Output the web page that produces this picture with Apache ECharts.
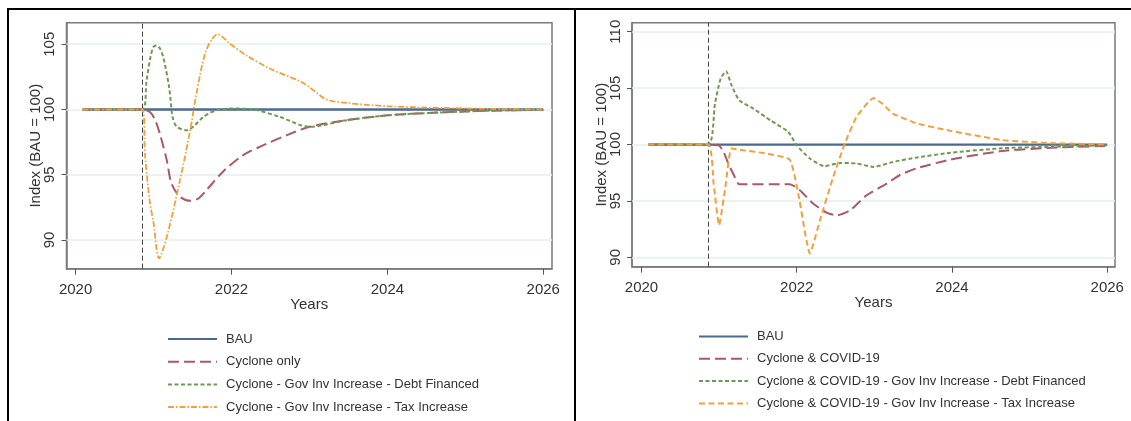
<!DOCTYPE html>
<html>
<head>
<meta charset="utf-8">
<script src="https://cdn.jsdelivr.net/npm/echarts@6/dist/echarts.min.js"></script>
<style>
html,body{margin:0;padding:0;background:#fff;}
#chart{width:1131px;height:421px;}
</style>
</head>
<body>
<div id="chart"></div>
<script>
// ---------- data ----------
const shockYear = 2020.86;
const xTicks = [2020, 2022, 2024, 2026];
const leftYTicks = [90, 95, 100, 105];
const rightYTicks = [90, 95, 100, 105, 110];

const leftNames = ['BAU', 'Cyclone only', 'Cyclone - Gov Inv Increase - Debt Financed', 'Cyclone - Gov Inv Increase - Tax Increase'];
const rightNames = ['BAU', 'Cyclone & COVID-19', 'Cyclone & COVID-19 - Gov Inv Increase - Debt Financed', 'Cyclone & COVID-19 - Gov Inv Increase - Tax Increase'];

// Left panel
const bauYears = [2020.09, 2026.0];
const bauValues = [100, 100];

const lCycYears = [2020.09, 2020.86, 2020.95, 2021.02, 2021.08, 2021.17, 2021.23, 2021.34, 2021.47, 2021.58, 2021.68, 2021.89, 2022.15, 2022.41, 2022.71, 2023.0, 2023.48, 2024.0, 2024.5, 2025.0, 2025.5, 2026.0];
const lCycValues = [100, 100, 99.82, 99.2, 98.16, 96.1, 94.34, 93.31, 93.0, 93.2, 93.83, 95.23, 96.5, 97.27, 98.03, 98.67, 99.18, 99.55, 99.72, 99.85, 99.93, 99.97];

const lDebtYears = [2020.09, 2020.86, 2020.91, 2020.96, 2021.0, 2021.04, 2021.08, 2021.125, 2021.2, 2021.245, 2021.3, 2021.43, 2021.53, 2021.64, 2021.81, 2022.02, 2022.28, 2022.62, 2023.0, 2023.48, 2024.0, 2024.5, 2025.0, 2025.5, 2026.0];
const lDebtValues = [100, 100, 102.2, 104.0, 104.8, 104.9, 104.7, 104.0, 101.7, 99.4, 98.67, 98.4, 98.8, 99.43, 99.95, 100.07, 100.0, 99.43, 98.67, 99.18, 99.55, 99.72, 99.85, 99.93, 99.96];

const lTaxYears = [2020.09, 2020.86, 2020.89, 2020.95, 2021.0, 2021.07, 2021.17, 2021.34, 2021.47, 2021.55, 2021.66, 2021.75, 2021.82, 2021.98, 2022.19, 2022.49, 2022.9, 2023.05, 2023.22, 2023.48, 2024.0, 2024.5, 2025.0, 2025.5, 2026.0];
const lTaxValues = [100, 100, 96.6, 93.0, 91.3, 88.6, 90.25, 94.6, 98.42, 101.22, 104.28, 105.4, 105.76, 105.05, 104.15, 103.14, 102.1, 101.48, 100.77, 100.5, 100.25, 100.15, 100.08, 100.03, 100.0];

// Right panel
const rCycYears = [2020.09, 2020.99, 2021.06, 2021.12, 2021.19, 2021.26, 2021.91, 2022.04, 2022.21, 2022.39, 2022.52, 2022.69, 2022.9, 2023.16, 2023.33, 2023.55, 2023.98, 2024.64, 2025.29, 2026.0];
const rCycValues = [100, 99.94, 99.3, 98.3, 97.3, 96.48, 96.48, 95.95, 94.77, 93.94, 93.73, 94.18, 95.5, 96.54, 97.3, 97.9, 98.67, 99.42, 99.72, 99.88];

const rDebtYears = [2020.09, 2020.86, 2020.947, 2021.02, 2021.09, 2021.16, 2021.26, 2021.44, 2021.66, 2021.89, 2022.0, 2022.17, 2022.36, 2022.56, 2022.77, 2022.99, 2023.24, 2023.55, 2023.98, 2024.64, 2025.29, 2026.0];
const rDebtValues = [100, 100, 103.63, 105.85, 106.5, 105.26, 103.93, 103.19, 102.15, 101.12, 99.94, 98.76, 98.08, 98.37, 98.32, 98.01, 98.46, 98.85, 99.27, 99.67, 99.8, 99.93];

const rTaxYears = [2020.09, 2020.86, 2020.93, 2021.0, 2021.08, 2021.16, 2021.31, 2021.61, 2021.91, 2022.02, 2022.17, 2022.3, 2022.47, 2022.62, 2022.77, 2022.99, 2023.1, 2023.24, 2023.55, 2023.98, 2024.64, 2025.29, 2026.0];
const rTaxValues = [100, 100, 96.5, 92.85, 96.2, 99.65, 99.5, 99.2, 98.67, 95.65, 90.34, 93.29, 97.13, 100.09, 102.45, 104.13, 103.63, 102.75, 101.86, 101.22, 100.4, 100.12, 100.02];

// ---------- styles ----------
const FONT = "'Liberation Sans', Arial, sans-serif";
const C_BAU = '#4a6a90', C_RED = '#a9596a', C_GRN = '#6d9a50', C_ORG = '#f3a03a';

function zip(xs, ys) { return xs.map((x, i) => [x, ys[i]]); }

function xAxis(gi, min, max) {
  return {
    type: 'value', gridIndex: gi, min: min, max: max,
    name: 'Years', nameLocation: 'middle', nameGap: 29, nameMoveOverlap: false,
    nameTextStyle: {fontSize: 15, color: '#333', fontFamily: FONT},
    axisLine: {show: true, lineStyle: {color: '#7a7a7a', width: 1.5}},
    axisTick: {show: true, customValues: xTicks, length: 6, lineStyle: {color: '#555'}},
    axisLabel: {customValues: xTicks, fontSize: 15, color: '#333', margin: 14, fontFamily: FONT,
                formatter: v => String(v)},
    splitLine: {show: false}
  };
}
function yAxis(gi, min, max, ticks) {
  return {
    type: 'value', gridIndex: gi, min: min, max: max,
    name: 'Index (BAU = 100)', nameLocation: 'middle', nameGap: 23, nameMoveOverlap: false,
    nameTextStyle: {fontSize: 15, color: '#333', fontFamily: FONT},
    axisLine: {show: true, lineStyle: {color: '#7a7a7a', width: 1.5}},
    axisTick: {show: true, customValues: ticks, length: 5, lineStyle: {color: '#555'}},
    axisLabel: {customValues: ticks, rotate: 90, fontSize: 15, color: '#333', margin: 9, fontFamily: FONT,
                formatter: v => String(v)},
    splitLine: {show: false}
  };
}
function line(name, gi, xs, ys, color, type, width, smooth, z) {
  return {
    name: name, type: 'line', xAxisIndex: gi, yAxisIndex: gi,
    data: zip(xs, ys), showSymbol: false, symbol: 'none', smooth: smooth, z: z,
    lineStyle: {color: color, width: width, type: type}, itemStyle: {color: color}
  };
}
function helper(gi, ticks) {
  return {
    type: 'line', xAxisIndex: gi, yAxisIndex: gi, data: [], silent: true, z: 1,
    markLine: {
      silent: true, symbol: ['none', 'none'], animation: false, z: 1,
      label: {show: false},
      data: ticks.map(v => ({yAxis: v, lineStyle: {color: '#e4eef1', width: 1.5, type: 'solid'}}))
        .concat([{xAxis: shockYear, lineStyle: {color: '#444', width: 1, type: [5, 3]}}])
    }
  };
}
function legend(left, top, gap, names) {
  return {
    left: left, top: top, orient: 'vertical', padding: 0,
    itemWidth: 49, itemHeight: 14, itemGap: gap,
    itemStyle: {opacity: 0},
    textStyle: {fontSize: 13, color: '#333', fontFamily: FONT, padding: [0, 0, 0, 4]},
    data: names
  };
}

const option = {
  animation: false,
  backgroundColor: '#fff',
  textStyle: {fontFamily: FONT},
  grid: [
    {left: 66.5, top: 22.7, width: 485.5, height: 246, show: true, borderColor: '#7a7a7a', borderWidth: 1.5, containLabel: false},
    {left: 632, top: 22.7, width: 483, height: 244, show: true, borderColor: '#7a7a7a', borderWidth: 1.5, containLabel: false}
  ],
  xAxis: [xAxis(0, 2019.883, 2026.112), xAxis(1, 2019.878, 2026.10)],
  yAxis: [yAxis(0, 87.8, 106.65, leftYTicks), yAxis(1, 89.17, 110.8, rightYTicks)],
  legend: [legend(167, 332.5, 9.7, leftNames), legend(698, 330, 9.3, rightNames)],
  series: [
    helper(0, leftYTicks),
    helper(1, rightYTicks),
    line('BAU', 0, bauYears, bauValues, C_BAU, 'solid', 2.5, false, 3),
    line(leftNames[1], 0, lCycYears, lCycValues, C_RED, [11, 5], 2, 0.3, 4),
    line(leftNames[2], 0, lDebtYears, lDebtValues, C_GRN, [4, 2.5], 2, 0.3, 5),
    line(leftNames[3], 0, lTaxYears, lTaxValues, C_ORG, [6, 2, 1.5, 2], 1.8, 0.3, 6),
    line('BAU', 1, bauYears, bauValues, C_BAU, 'solid', 2.2, false, 3),
    line(rightNames[1], 1, rCycYears, rCycValues, C_RED, [11, 5], 2, 0.2, 4),
    line(rightNames[2], 1, rDebtYears, rDebtValues, C_GRN, [4, 2.5], 2, 0.2, 5),
    line(rightNames[3], 1, rTaxYears, rTaxValues, C_ORG, [6, 3.5], 2, 0.15, 6)
  ],
  graphic: [
    {type: 'line', shape: {x1: 7, y1: 9, x2: 1131, y2: 9}, style: {stroke: '#000', lineWidth: 2}},
    {type: 'line', shape: {x1: 8, y1: 8, x2: 8, y2: 421}, style: {stroke: '#000', lineWidth: 2}},
    {type: 'line', shape: {x1: 575, y1: 8, x2: 575, y2: 421}, style: {stroke: '#000', lineWidth: 2}}
  ]
};

const chart = echarts.init(document.getElementById('chart'), null, {renderer: 'canvas'});
chart.setOption(option);
</script>
</body>
</html>
